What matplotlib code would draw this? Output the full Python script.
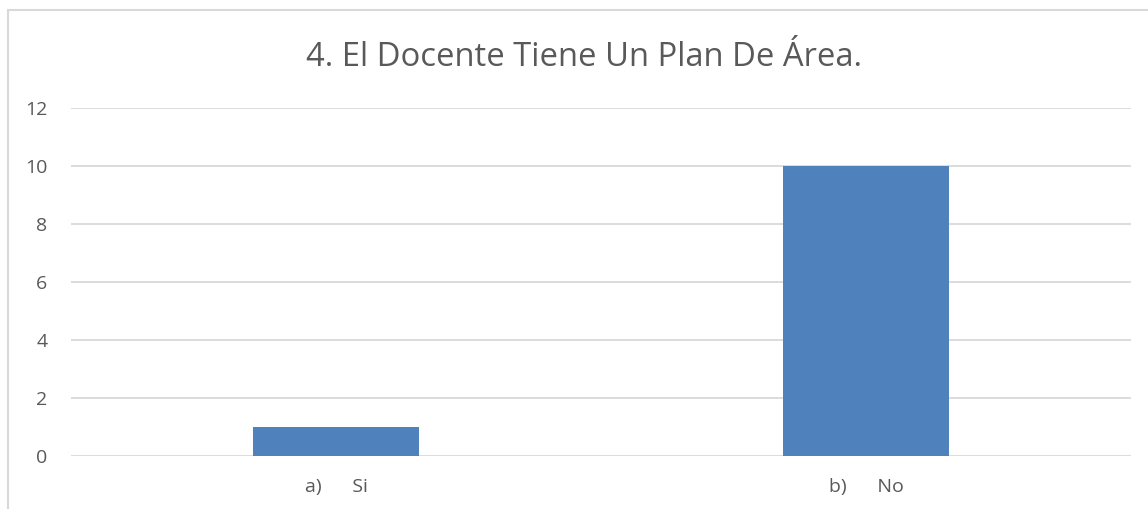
import matplotlib
matplotlib.use("Agg")
import matplotlib.pyplot as plt
from matplotlib.patches import Rectangle

title = "4. El Docente Tiene Un Plan De Área."
categories = ["a)      Si", "b)      No"]
values = [1, 10]
yticks = [0, 2, 4, 6, 8, 10, 12]

plt.rcParams['font.family'] = ['Open Sans', 'DejaVu Sans']

W, H = 1148, 509
fig = plt.figure(figsize=(W / 100, H / 100), dpi=100)
fig.patch.set_facecolor("white")

# chart border
fig.patches.append(Rectangle((7.5 / W, -0.1), 1.2, 1 - 9.5 / H + 0.1,
                             transform=fig.transFigure, fill=False,
                             edgecolor="#D9D9D9", linewidth=1.5))

left, right = 71 / W, 1131 / W
bottom, top = 1 - 456 / H, 1 - 108 / H
ax = fig.add_axes([left, bottom, right - left, top - bottom])

x = list(range(len(categories)))
ax.bar(x, values, width=0.313, color="#4F81BD", zorder=3)
ax.set_xlim(-0.5, len(categories) - 0.5)
ax.set_ylim(0, 12)
ax.set_yticks(yticks)
ax.set_yticklabels([str(t) for t in yticks])
ax.set_xticks(x)
ax.set_xticklabels(categories)

ax.grid(axis="y", color="#D9D9D9", linewidth=1.3, zorder=0)
ax.set_axisbelow(True)
for s in ax.spines.values():
    s.set_visible(False)
ax.tick_params(axis="both", length=0, labelsize=14, colors="#595959")
ax.tick_params(axis="y", pad=17)
ax.tick_params(axis="x", pad=16)

fig.text((305 + 862) / 2 / W, 1 - 57 / H, title, ha="center", va="center",
         fontsize=23.6, color="#595959")

fig.savefig("out.png", dpi=100)
